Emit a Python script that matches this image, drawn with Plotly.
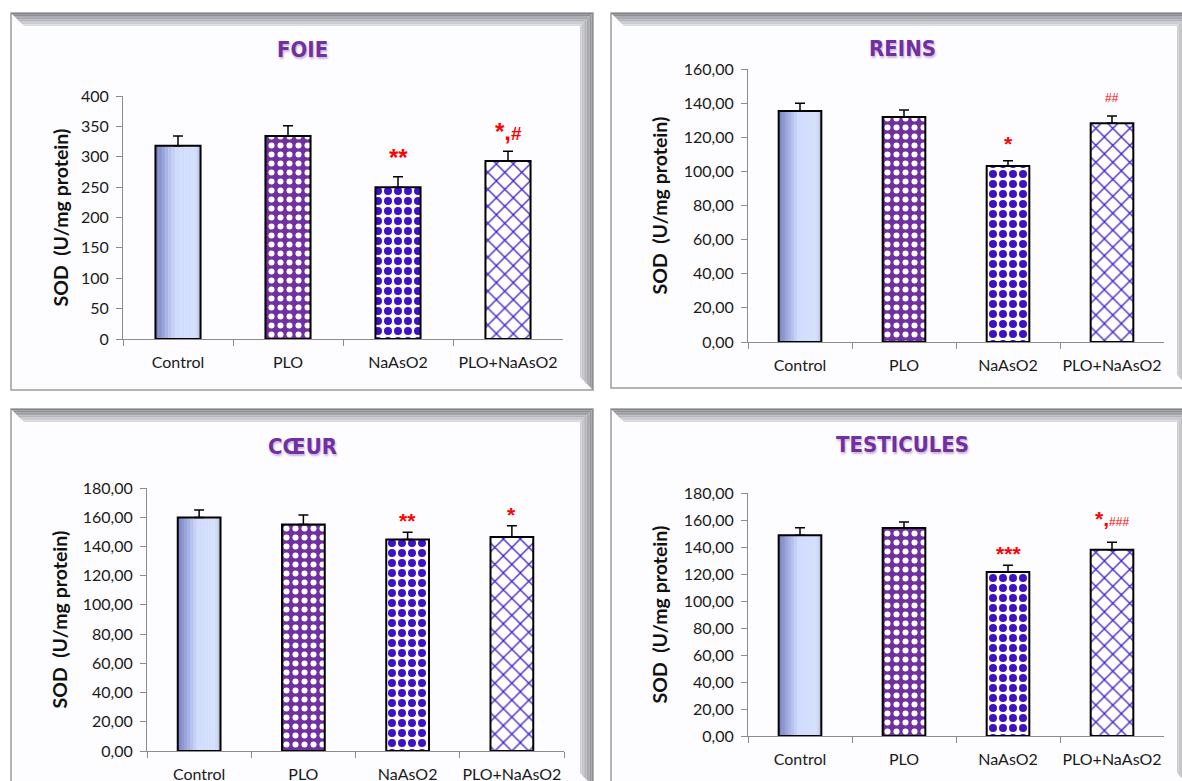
import plotly.graph_objects as go

W, H = 1182, 781

CATEGORIES = ["Control", "PLO", "NaAsO2", "PLO+NaAsO2"]

FOIE_MEAN = [318, 334, 250, 293]
FOIE_ERR = [16, 17, 17, 16]
FOIE_SIG = ["", "", "**", "*,#"]

REINS_MEAN = [135.4, 131.9, 103.1, 128.2]
REINS_ERR = [4.5, 4.1, 3.1, 4.3]
REINS_SIG = ["", "", "*", "##"]

COEUR_MEAN = [159.8, 155.0, 144.8, 146.4]
COEUR_ERR = [5.2, 6.6, 5.0, 7.7]
COEUR_SIG = ["", "", "**", "*"]

TESTI_MEAN = [148.7, 154.1, 121.5, 138.0]
TESTI_ERR = [5.6, 4.4, 4.9, 5.5]
TESTI_SIG = ["", "", "***", "*,###"]

Y_TITLE = "SOD\u00a0\u00a0(U/mg protein)"

PURPLE = "#7030a0"
BLUE = "#3d12c4"
LINE_GREY = "#8c8c8c"
BAR_W = 0.41
TITLE_FONT = "DejaVu Sans Condensed, Liberation Sans Narrow, Roboto, sans-serif"

# fill style of each group's bar (Control gets a gradient drawn underneath)
BAR_STYLES = [
    dict(color="rgba(0,0,0,0)"),
    dict(color=PURPLE, pattern=dict(shape=".", fgcolor="#ffffff", fgopacity=1, size=9,
                                    solidity=0.35, fillmode="overlay")),
    dict(color="#ffffff", pattern=dict(shape=".", fgcolor=BLUE, fgopacity=1, size=10,
                                       solidity=0.5, fillmode="overlay")),
    dict(color="#ffffff", pattern=dict(shape="x", fgcolor="#3f1cc8", fgopacity=1, size=12,
                                       solidity=0.2, fillmode="overlay")),
]


def px(x):
    return x / W


def py(y):
    return 1 - y / H


def mix(c1, c2, t):
    return "rgb(%d,%d,%d)" % tuple(round(a + (b - a) * t) for a, b in zip(c1, c2))


def control_colour(t):
    # horizontal gradient across the Control bar (dark left edge -> pale blue)
    stops = [(0.0, (118, 128, 196)), (0.45, (208, 220, 252)), (0.88, (211, 223, 253)), (1.0, (180, 192, 224))]
    for (t0, c0), (t1, c1) in zip(stops, stops[1:]):
        if t <= t1:
            return mix(c0, c1, (t - t0) / (t1 - t0))
    return mix(stops[-1][1], stops[-1][1], 0)


# plot box (x0, x1, ytop, ybottom) and frame (L, T, R, B) in pixels
PANELS = [
    dict(title="FOIE", mean=FOIE_MEAN, err=FOIE_ERR, sig=FOIE_SIG, ymax=400, dtick=50, fmt="d",
         box=(123, 563, 96, 339), frame=(11, 13, 593, 390), tc=(302, 50), ytx=60,
         star=24, hsize=19, hbold=True, shifts=[0, 0, 4, 4]),
    dict(title="REINS", mean=REINS_MEAN, err=REINS_ERR, sig=REINS_SIG, ymax=160, dtick=20, fmt=".2f",
         box=(748, 1164, 69, 342), frame=(611, 13, 1190, 388), tc=(902, 48), ytx=659,
         star=21, hsize=12, hbold=False, shifts=[0, 0, 4, 9]),
    dict(title="CŒUR", mean=COEUR_MEAN, err=COEUR_ERR, sig=COEUR_SIG, ymax=180, dtick=20, fmt=".2f",
         box=(147, 564, 488, 751), frame=(11, 409, 593, 786), tc=(302, 446), ytx=59,
         star=21, hsize=12, hbold=False, shifts=[0, 0, -2, -2]),
    dict(title="TESTICULES", mean=TESTI_MEAN, err=TESTI_ERR, sig=TESTI_SIG, ymax=180, dtick=20, fmt=".2f",
         box=(748, 1164, 493, 736), frame=(611, 409, 1190, 786), tc=(902, 445), ytx=659,
         star=21, hsize=12, hbold=False, shifts=[0, 0, -2, 10]),
]


def sig_text(s, p):
    out = ""
    for ch in s:
        if ch == "#":
            h = "<b>#</b>" if p["hbold"] else "#"
            out += '<span style="font-size:%dpx">%s</span>' % (p["hsize"], h)
        else:
            out += '<span style="font-size:%dpx"><b>%s</b></span>' % (p["star"], ch)
    return out


fig = go.Figure()
shapes = []
annotations = []

for i, p in enumerate(PANELS, start=1):
    xa = "x" if i == 1 else "x%d" % i
    ya = "y" if i == 1 else "y%d" % i

    # gradient strips for the Control bar
    n = 14
    for k in range(n):
        fig.add_trace(go.Bar(
            x=[CATEGORIES[0]], y=[p["mean"][0]],
            width=BAR_W / n + 0.002, offset=-BAR_W / 2 + k * BAR_W / n,
            marker=dict(color=control_colour((k + 0.5) / n), line=dict(width=0)),
            xaxis=xa, yaxis=ya, showlegend=False, hoverinfo="skip",
        ))

    for j, cat in enumerate(CATEGORIES):
        fig.add_trace(go.Bar(
            x=[cat], y=[p["mean"][j]],
            width=BAR_W, offset=-BAR_W / 2,
            marker=dict(line=dict(color="black", width=2), **BAR_STYLES[j]),
            error_y=dict(type="data", array=[p["err"][j]], arrayminus=[0], symmetric=False,
                         color="black", thickness=1.5, width=5),
            xaxis=xa, yaxis=ya, showlegend=False,
        ))

    x0, x1, yt, yb = p["box"]
    axis_common = dict(showline=True, linecolor=LINE_GREY, linewidth=1, ticks="outside",
                       ticklen=6, tickcolor=LINE_GREY, showgrid=False, zeroline=False,
                       automargin=False,
                       tickfont=dict(family="Lato", size=16, color="#1a1a1a"))
    fig.update_layout(**{
        ("xaxis" if i == 1 else "xaxis%d" % i): dict(
            domain=[px(x0), px(x1)], anchor=ya, type="category", tickson="boundaries",
            range=[-0.5, 3.5], tickangle=0, ticklabelstandoff=9, **axis_common),
        ("yaxis" if i == 1 else "yaxis%d" % i): dict(
            domain=[py(yb), py(yt)], anchor=xa, range=[0, p["ymax"]], dtick=p["dtick"],
            tickformat=p["fmt"], ticklabelstandoff=4, **axis_common),
    })

    for cat, m, e, s, sh in zip(CATEGORIES, p["mean"], p["err"], p["sig"], p["shifts"]):
        if s:
            annotations.append(dict(
                x=cat, y=m + e, xref=xa, yref=ya, text=sig_text(s, p), showarrow=False,
                yanchor="bottom", yshift=sh,
                font=dict(family="Liberation Sans", color="#ff0000"),
            ))

    # title and y-axis title
    annotations.append(dict(
        x=px(p["tc"][0]), y=py(p["tc"][1]), xref="paper", yref="paper", showarrow=False,
        text="<b>%s</b>" % p["title"], xanchor="center", yanchor="middle",
        font=dict(family=TITLE_FONT, size=22, color=PURPLE,
                  shadow="1px 2px 2px rgba(112,48,160,0.35)"),
    ))
    annotations.append(dict(
        x=px(p["ytx"]), y=py((yt + yb) / 2), xref="paper", yref="paper", showarrow=False,
        text="<b>%s</b>" % Y_TITLE, textangle=-90, xanchor="center", yanchor="middle",
        font=dict(family="Lato", size=19.5, color="#111111"),
    ))

    # chart frame with bevel at top and right
    L, T, R, B = p["frame"]
    shapes.append(dict(type="rect", xref="paper", yref="paper", layer="below",
                       x0=px(L), x1=px(R), y0=py(B), y1=py(T),
                       fillcolor="#fdfcff", line=dict(color="#9c9c9c", width=1.5)))
    bev = 13
    steps = 8
    for k in range(steps):
        a, b = k * bev / steps, (k + 1) * bev / steps
        col = mix((128, 131, 136), (216, 216, 222), k / (steps - 1))
        path = "M %f,%f L %f,%f L %f,%f L %f,%f Z" % (
            px(L + a), py(T + a), px(R - a), py(T + a), px(R - b), py(T + b), px(L + b), py(T + b))
        shapes.append(dict(type="path", path=path, xref="paper", yref="paper", layer="below",
                           fillcolor=col, line=dict(width=0)))
        col2 = mix((140, 142, 146), (205, 205, 210), k / (steps - 1))
        path2 = "M %f,%f L %f,%f L %f,%f L %f,%f Z" % (
            px(R - a), py(T + a), px(R - a), py(B - a), px(R - b), py(B - b), px(R - b), py(T + b))
        shapes.append(dict(type="path", path=path2, xref="paper", yref="paper", layer="below",
                           fillcolor=col2, line=dict(width=0)))

fig.update_layout(
    width=W, height=H,
    margin=dict(l=0, r=0, t=0, b=0),
    paper_bgcolor="white", plot_bgcolor="rgba(0,0,0,0)",
    barmode="overlay",
    separators=", ",
    shapes=shapes,
    annotations=annotations,
    showlegend=False,
)

fig.write_html("out.html", config={"displayModeBar": False},
               post_script="document.body.style.margin = '0';")
